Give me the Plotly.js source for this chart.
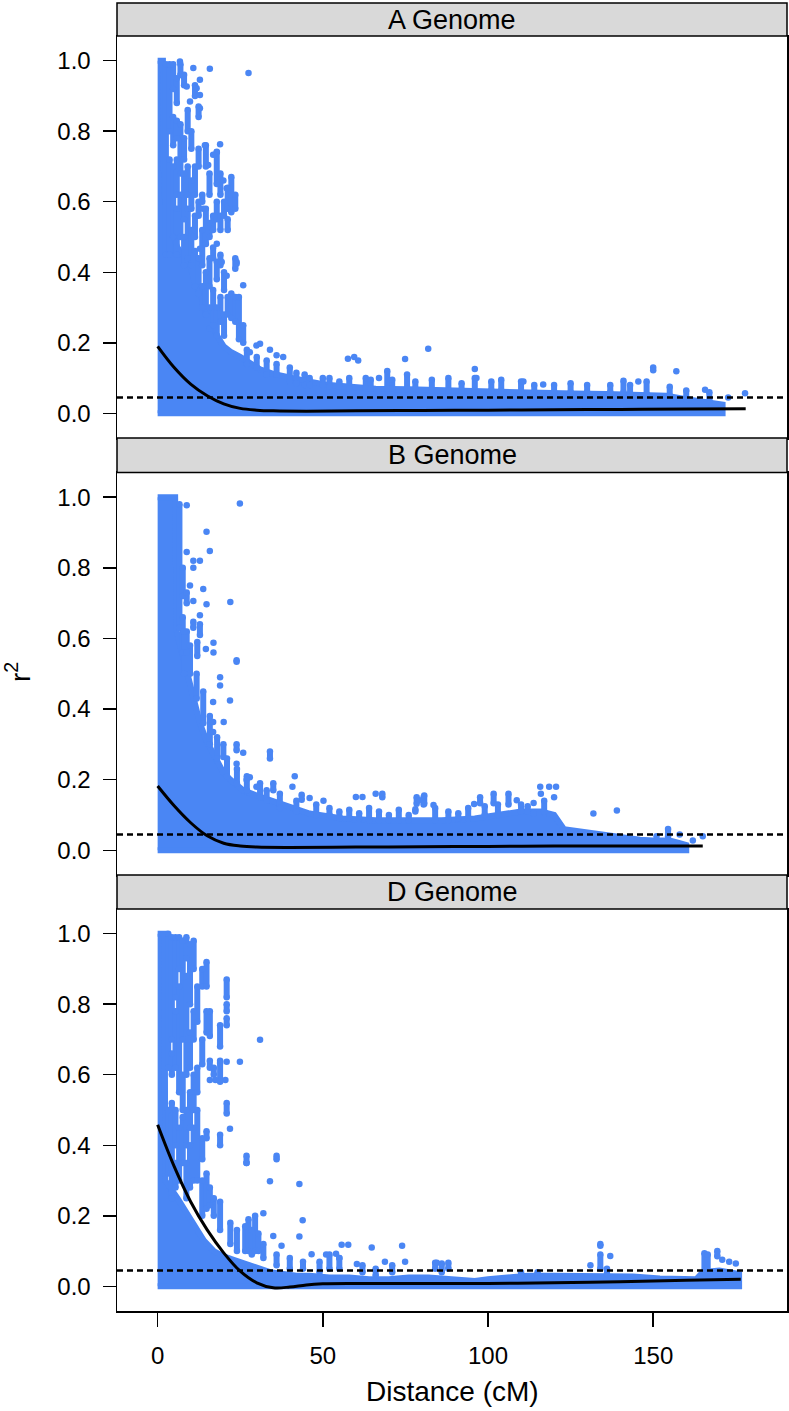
<!DOCTYPE html>
<html><head><meta charset="utf-8">
<script src="https://cdn.plot.ly/plotly-3.0.1.min.js"></script>
<style>body{margin:0;background:#fff}#chart{width:789px;height:1411px}</style>
</head><body><div id="chart"></div>
<script>
// ---------- labels / ticks ----------
const panelNames = ["A Genome", "B Genome", "D Genome"];
const xTickVals = [0, 50, 100, 150];
const xTickText = ["0", "50", "100", "150"];
const yTickVals = [0, 0.2, 0.4, 0.6, 0.8, 1.0];
const yTickText = ["0.0", "0.2", "0.4", "0.6", "0.8", "1.0"];
const threshold = 0.045;

// ---------- A genome ----------
// solid dense core (upper envelope of the saturated cloud)
const A_coreX = [0, 1.6, 2.0, 4, 6, 8, 9.8, 11, 12.8, 14.5, 16, 18, 20, 22, 25, 28, 31, 35, 40, 46, 52, 58, 66, 76, 86, 96, 106, 116, 126, 136, 146, 154, 160, 164, 168, 171];
const A_coreY = [1.0, 1.0, 0.62, 0.52, 0.47, 0.44, 0.42, 0.38, 0.34, 0.3, 0.26, 0.22, 0.19, 0.175, 0.16, 0.14, 0.125, 0.112, 0.1, 0.09, 0.08, 0.075, 0.07, 0.068, 0.065, 0.062, 0.06, 0.058, 0.056, 0.055, 0.054, 0.05, 0.04, 0.035, 0.03, 0.025];
// vertical runs of stacked points
const A_runX  = [2.5, 3.6, 3.6, 4.7, 4.7, 4.7, 5.8, 5.8, 5.8, 5.8, 6.9, 6.9, 6.9, 8.0, 8.0, 8.0, 8.0, 9.1, 9.1, 9.1, 10.2, 10.2, 10.2, 11.3, 11.3, 11.3, 11.3, 12.4, 12.4, 12.4, 12.4, 13.5, 13.5, 13.5, 14.6, 14.6, 14.6, 15.7, 15.7, 15.7, 15.7, 16.8, 16.8, 16.8, 17.9, 17.9, 17.9, 17.9, 19.0, 19.0, 19.0, 19.0, 20.1, 20.1, 20.1, 21.2, 21.2, 21.2, 22.3, 22.3, 23.5, 23.5, 23.5, 24.6, 25.9,
  27, 30, 33, 36, 40, 42, 44.5, 46, 50, 52, 55, 58, 63, 64.5, 69.5, 71, 75.5, 78, 83, 88, 92, 96, 101, 104, 110, 114, 120, 125, 130, 137, 141, 143, 148, 155, 160, 167];
const A_runLo = [0.45, 0.8, 0.45, 0.92, 0.76, 0.5, 0.88, 0.78, 0.62, 0.45, 0.96, 0.68, 0.5, 0.93, 0.72, 0.55, 0.42, 0.8, 0.62, 0.44, 0.75, 0.58, 0.42, 0.9, 0.62, 0.5, 0.36, 0.84, 0.7, 0.56, 0.34, 0.6, 0.42, 0.3, 0.7, 0.48, 0.28, 0.62, 0.5, 0.36, 0.24, 0.52, 0.44, 0.25, 0.65, 0.55, 0.38, 0.22, 0.62, 0.52, 0.42, 0.26, 0.56, 0.35, 0.22, 0.58, 0.52, 0.28, 0.57, 0.27, 0.58, 0.41, 0.26, 0.21, 0.2,
  0.14, 0.13, 0.11, 0.11, 0.09, 0.085, 0.08, 0.08, 0.08, 0.075, 0.075, 0.07, 0.07, 0.07, 0.07, 0.07, 0.07, 0.07, 0.065, 0.065, 0.065, 0.06, 0.065, 0.065, 0.06, 0.06, 0.06, 0.06, 0.06, 0.06, 0.06, 0.055, 0.055, 0.05, 0.04, 0.035];
const A_runHi = [0.99, 0.99, 0.72, 0.99, 0.84, 0.7, 0.95, 0.83, 0.72, 0.58, 0.99, 0.82, 0.62, 0.96, 0.78, 0.68, 0.5, 0.86, 0.7, 0.58, 0.8, 0.66, 0.52, 0.93, 0.7, 0.56, 0.46, 0.87, 0.75, 0.6, 0.44, 0.62, 0.52, 0.36, 0.76, 0.58, 0.4, 0.68, 0.54, 0.44, 0.3, 0.56, 0.47, 0.35, 0.74, 0.6, 0.43, 0.3, 0.68, 0.56, 0.45, 0.33, 0.6, 0.4, 0.28, 0.64, 0.55, 0.33, 0.67, 0.34, 0.62, 0.44, 0.33, 0.33, 0.25,
  0.18, 0.16, 0.15, 0.14, 0.13, 0.115, 0.11, 0.1, 0.1, 0.1, 0.09, 0.1, 0.1, 0.095, 0.12, 0.095, 0.11, 0.09, 0.095, 0.1, 0.085, 0.1, 0.09, 0.095, 0.09, 0.08, 0.08, 0.085, 0.08, 0.08, 0.092, 0.08, 0.09, 0.075, 0.065, 0.06];
// isolated points
const A_ptX = [6.75, 10.8, 15.8, 27.5, 7.8, 12.8, 8.8, 11.8, 12.8, 9.8, 12.8, 14.3, 18.9, 17.9, 16.8, 15.3, 19.9, 20.9, 13.8, 10.8, 12.8, 19.4, 23.9, 20.9, 25.9, 27.9, 29.9, 17.9, 23.9, 31, 34, 36, 38, 57.6, 59.5, 60.7, 74.9, 81.9, 96, 96.5, 110.7, 116.7, 145.5, 150, 150, 157, 165.7, 172.7, 177.8, 67];
const A_ptY = [0.998, 0.979, 0.977, 0.965, 0.955, 0.946, 0.927, 0.922, 0.903, 0.884, 0.865, 0.76, 0.763, 0.742, 0.733, 0.704, 0.66, 0.638, 0.58, 0.5, 0.467, 0.429, 0.429, 0.39, 0.363, 0.173, 0.192, 0.481, 0.424, 0.197, 0.18, 0.165, 0.16, 0.155, 0.16, 0.15, 0.154, 0.183, 0.126, 0.1, 0.09, 0.082, 0.09, 0.13, 0.122, 0.119, 0.067, 0.045, 0.057, 0.1];
// smoothed decay curve
const A_fitX = [0, 5, 10, 15, 20, 25, 30, 35, 45, 60, 80, 100, 120, 140, 160, 178];
const A_fitY = [0.19, 0.13, 0.083, 0.05, 0.027, 0.014, 0.009, 0.007, 0.006, 0.007, 0.008, 0.009, 0.01, 0.011, 0.012, 0.013];

// ---------- B genome ----------
const B_coreX = [0, 5.3, 5.8, 7.5, 9, 10.8, 12.8, 14.8, 17, 19.9, 22, 25.9, 30, 34, 39, 46, 56, 66, 76, 86, 96, 104, 110, 116, 120, 123, 130, 135, 140, 146, 150, 155, 158, 160];
const B_coreY = [1.0, 1.0, 0.62, 0.56, 0.5, 0.43, 0.36, 0.31, 0.27, 0.22, 0.2, 0.17, 0.155, 0.142, 0.123, 0.104, 0.09, 0.085, 0.085, 0.085, 0.09, 0.1, 0.11, 0.11, 0.1, 0.06, 0.05, 0.045, 0.04, 0.03, 0.028, 0.028, 0.02, 0.015];
const B_runX  = [6.6, 7.6, 7.6, 8.8, 8.8, 9.8, 10.8, 12.8, 12, 34, 23.9, 19.9, 35, 43.6, 68, 78.4, 80.5, 97.6, 101.7, 106.2, 80.7, 78, 154.5,
  48, 52, 55, 58, 61, 64, 67, 70, 73, 76, 84, 88, 91, 94, 99, 103, 110, 112, 117,
  8, 11.8, 13.8, 15.8, 18, 21, 24, 27, 31, 33, 37, 42];
const B_runLo = [0.63, 0.56, 0.72, 0.56, 0.7, 0.5, 0.63, 0.61, 0.55, 0.26, 0.283, 0.264, 0.17, 0.143, 0.15, 0.132, 0.13, 0.133, 0.133, 0.13, 0.132, 0.11, 0.04,
  0.1, 0.1, 0.09, 0.09, 0.09, 0.085, 0.085, 0.085, 0.085, 0.085, 0.085, 0.085, 0.09, 0.09, 0.1, 0.1, 0.11, 0.11, 0.11,
  0.5, 0.43, 0.36, 0.3, 0.26, 0.21, 0.19, 0.17, 0.15, 0.14, 0.12, 0.11];
const B_runHi = [0.98, 0.66, 0.8, 0.62, 0.73, 0.58, 0.647, 0.64, 0.59, 0.28, 0.3, 0.3, 0.19, 0.157, 0.16, 0.15, 0.15, 0.15, 0.16, 0.16, 0.155, 0.116, 0.06,
  0.13, 0.12, 0.11, 0.115, 0.105, 0.12, 0.11, 0.1, 0.115, 0.1, 0.12, 0.11, 0.105, 0.12, 0.125, 0.13, 0.13, 0.125, 0.14,
  0.62, 0.5, 0.45, 0.38, 0.32, 0.26, 0.23, 0.21, 0.19, 0.17, 0.16, 0.14];
const B_ptX = [23.9, 18.9, 18.9, 16.8, 21.9, 16.8, 20, 16.8, 25.9, 23.9, 27.9, 26.9, 29.9, 40.8, 41.5, 46, 50.2, 60, 62, 66, 22, 24.9, 8.8, 14.8, 8.8, 15.8, 10.8, 12.8, 10.8, 9.8, 13.8, 10.8, 14.8, 12.8, 16.9, 16.9, 14.6, 23.9,
  115.8, 118.5, 120.6, 116, 120, 108.7, 113.8, 95.8, 79, 83.5, 131.9, 139, 113.8, 127.8, 151, 158, 162, 165];
const B_ptY = [0.534, 0.49, 0.467, 0.42, 0.424, 0.363, 0.363, 0.335, 0.276, 0.245, 0.207, 0.2, 0.18, 0.18, 0.21, 0.148, 0.14, 0.151, 0.151, 0.16, 0.703, 0.982, 0.977, 0.902, 0.845, 0.848, 0.82, 0.82, 0.8, 0.75, 0.74, 0.706, 0.697, 0.666, 0.588, 0.56, 0.57, 0.538,
  0.18, 0.18, 0.18, 0.16, 0.15, 0.142, 0.134, 0.131, 0.142, 0.128, 0.104, 0.113, 0.104, 0.05, 0.04, 0.045, 0.028, 0.04];
const B_fitX = [0, 5, 10, 15, 20, 25, 30, 40, 60, 80, 100, 120, 140, 165];
const B_fitY = [0.182, 0.126, 0.078, 0.041, 0.02, 0.012, 0.009, 0.008, 0.009, 0.01, 0.011, 0.012, 0.012, 0.012];

// ---------- D genome ----------
const D_coreX = [0, 2.1, 2.3, 4, 6, 8, 10, 12, 14, 17, 20, 23, 26, 30, 34, 38, 42, 46, 52, 58, 64, 70, 76, 82, 90, 96, 100, 106, 112, 120, 128, 136, 144, 152, 158, 163, 165, 170, 176];
const D_coreY = [1.0, 1.0, 0.3, 0.28, 0.25, 0.22, 0.19, 0.16, 0.13, 0.1, 0.085, 0.075, 0.065, 0.05, 0.04, 0.035, 0.03, 0.03, 0.025, 0.025, 0.02, 0.02, 0.025, 0.025, 0.02, 0.015, 0.02, 0.025, 0.03, 0.03, 0.03, 0.032, 0.028, 0.022, 0.02, 0.02, 0.04, 0.045, 0.035];
const D_runX  = [3.2, 3.2, 4.3, 4.3, 4.3, 5.4, 5.4, 5.4, 5.4, 6.5, 6.5, 6.5, 7.6, 7.6, 7.6, 8.7, 8.7, 8.7, 8.7, 9.8, 9.8, 9.8, 9.8, 10.9, 10.9, 10.9, 10.9, 12.0, 12.0, 12.0, 13.5, 13.5, 13.5, 13.5, 14.8, 14.8, 14.8, 14.8, 15.8, 15.8, 15.8, 17.0, 17.0, 18.9, 18.9, 18.9, 18.9, 20.9, 20.9, 20.9, 20.9,
  22, 24, 26.5, 27.5, 28.5, 29.5, 30.5, 32, 26.9, 36, 36, 40, 44, 49, 52, 55, 62, 66, 71, 84, 86, 88, 110, 115, 134, 134, 136, 165.5, 166.5, 169.4];
const D_runLo = [0.62, 0.32, 0.7, 0.6, 0.25, 0.82, 0.62, 0.4, 0.28, 0.9, 0.55, 0.3, 0.7, 0.5, 0.35, 0.93, 0.6, 0.4, 0.25, 0.8, 0.62, 0.45, 0.28, 0.9, 0.7, 0.5, 0.3, 0.75, 0.55, 0.3, 0.85, 0.63, 0.36, 0.2, 0.85, 0.72, 0.42, 0.22, 0.71, 0.62, 0.23, 0.6, 0.2, 0.68, 0.58, 0.4, 0.16, 0.82, 0.78, 0.74, 0.49,
  0.12, 0.1, 0.1, 0.1, 0.09, 0.1, 0.1, 0.08, 0.35, 0.36, 0.06, 0.05, 0.05, 0.04, 0.05, 0.05, 0.04, 0.03, 0.04, 0.05, 0.04, 0.05, 0.03, 0.03, 0.05, 0.115, 0.035, 0.04, 0.04, 0.085];
const D_runHi = [1.0, 0.5, 0.99, 0.66, 0.52, 0.99, 0.78, 0.5, 0.35, 0.99, 0.85, 0.45, 0.98, 0.6, 0.48, 0.99, 0.88, 0.5, 0.35, 0.97, 0.72, 0.55, 0.4, 0.98, 0.78, 0.6, 0.45, 0.85, 0.62, 0.5, 0.9, 0.7, 0.42, 0.3, 0.92, 0.78, 0.44, 0.32, 0.78, 0.64, 0.28, 0.62, 0.25, 0.74, 0.64, 0.43, 0.24, 0.87, 0.8, 0.76, 0.52,
  0.18, 0.16, 0.17, 0.19, 0.16, 0.2, 0.15, 0.12, 0.37, 0.37, 0.09, 0.08, 0.07, 0.07, 0.09, 0.08, 0.06, 0.05, 0.06, 0.067, 0.065, 0.067, 0.04, 0.04, 0.09, 0.12, 0.05, 0.094, 0.09, 0.1];
const D_ptX = [31, 24.9, 20.9, 18.9, 15.8, 17.5, 20.5, 21.9, 26.9, 34, 42.9, 43.9, 42.9, 32, 35, 37.5, 55.7, 57.7, 64.8, 74, 68.8, 74.9, 46.6, 51, 54, 55, 60.3, 84.5, 137, 131, 170.9, 173, 175];
const D_ptY = [0.699, 0.637, 0.637, 0.633, 0.585, 0.585, 0.585, 0.447, 0.35, 0.298, 0.29, 0.187, 0.141, 0.207, 0.143, 0.115, 0.118, 0.118, 0.11, 0.115, 0.07, 0.07, 0.091, 0.09, 0.092, 0.08, 0.063, 0.067, 0.086, 0.06, 0.075, 0.07, 0.065];
const D_fitX = [0, 5, 10, 15, 20, 25, 30, 35, 40, 45, 50, 60, 80, 100, 120, 140, 160, 176.5];
const D_fitY = [0.458, 0.34, 0.24, 0.16, 0.095, 0.043, 0.01, -0.004, -0.002, 0.004, 0.007, 0.008, 0.008, 0.008, 0.01, 0.013, 0.017, 0.02];

// ---------- build ----------
const BLUE = '#4a86f4';
const MS = 6.5;
const FONT = 'Liberation Sans, Arial, sans-serif';

function panelTraces(coreX, coreY, runX, runLo, runHi, ptX, ptY, fitX, fitY, xa, ya) {
  const polyX = coreX.concat(coreX.slice().reverse());
  const polyY = coreY.concat(coreX.map(() => 0));
  const sx = [], sy = [];
  runX.forEach((x, i) => { sx.push(x, x, null); sy.push(runLo[i], runHi[i], null); });
  return [
    {type: 'scatter', mode: 'lines', x: polyX, y: polyY, fill: 'toself', fillcolor: BLUE,
     line: {color: BLUE, width: 6}, xaxis: xa, yaxis: ya, hoverinfo: 'skip'},
    {type: 'scatter', mode: 'lines+markers', x: sx, y: sy, connectgaps: false,
     line: {color: BLUE, width: 6}, marker: {color: BLUE, size: MS}, xaxis: xa, yaxis: ya, hoverinfo: 'skip'},
    {type: 'scatter', mode: 'markers', x: ptX, y: ptY, marker: {color: BLUE, size: MS},
     xaxis: xa, yaxis: ya, hoverinfo: 'skip'},
    {type: 'scatter', mode: 'lines', x: fitX, y: fitY, line: {color: '#000', width: 3, shape: 'spline'},
     xaxis: xa, yaxis: ya, hoverinfo: 'skip'}
  ];
}

const data = [].concat(
  panelTraces(A_coreX, A_coreY, A_runX, A_runLo, A_runHi, A_ptX, A_ptY, A_fitX, A_fitY, 'x', 'y'),
  panelTraces(B_coreX, B_coreY, B_runX, B_runLo, B_runHi, B_ptX, B_ptY, B_fitX, B_fitY, 'x2', 'y2'),
  panelTraces(D_coreX, D_coreY, D_runX, D_runLo, D_runHi, D_ptX, D_ptY, D_fitX, D_fitY, 'x3', 'y3')
);

// pixel layout: plot area 117..787 (x), 3..1311 (y)
const H = 1308;
const pf = p => (1311 - p) / H;
const plotDom = [[pf(438), pf(36)], [pf(875), pf(472.5)], [0, pf(909)]];
const stripDom = [[pf(36), 1], [pf(472.5), pf(438)], [pf(909), pf(875)]];

const XR = [-12.3, 190.5];
const YR = [-0.07, 1.07];
const tickFont = {family: FONT, size: 24, color: '#000'};

function xAxis(anchor, showTicks) {
  return {domain: [0, 1], anchor: anchor, range: XR, showgrid: false, zeroline: false,
    showline: true, mirror: true, linecolor: '#000', linewidth: 1.5,
    ticks: showTicks ? 'outside' : '', ticklen: 14, tickwidth: 1.5, tickcolor: '#000',
    tickvals: xTickVals, ticktext: xTickText, showticklabels: showTicks,
    tickfont: tickFont, ticklabelstandoff: 9};
}
function yAxis(anchor, dom) {
  return {domain: dom, anchor: anchor, range: YR, showgrid: false, zeroline: false,
    showline: true, mirror: true, linecolor: '#000', linewidth: 1.5,
    ticks: 'outside', ticklen: 13, tickwidth: 1.5, tickcolor: '#000',
    tickvals: yTickVals, ticktext: yTickText, tickfont: tickFont, ticklabelstandoff: 7};
}

const shapes = [];
const annotations = [];
panelNames.forEach((name, i) => {
  shapes.push({type: 'rect', xref: 'paper', yref: 'paper', x0: 0, x1: 1,
    y0: stripDom[i][0], y1: stripDom[i][1], fillcolor: '#d9d9d9',
    line: {color: '#000', width: 1.5}, layer: 'above'});
  annotations.push({xref: 'paper', yref: 'paper', x: 0.5, y: (stripDom[i][0] + stripDom[i][1]) / 2,
    xanchor: 'center', yanchor: 'middle', showarrow: false, text: name,
    font: {family: FONT, size: 27, color: '#000'}});
  const sfx = i === 0 ? '' : String(i + 1);
  shapes.push({type: 'line', xref: 'x' + sfx + ' domain', yref: 'y' + sfx, x0: 0, x1: 1,
    y0: threshold, y1: threshold, line: {color: '#000', width: 2.5, dash: '6px,4px'}, layer: 'above'});
});
annotations.push({xref: 'paper', yref: 'paper', x: (18 - 117) / 670, y: pf(672),
  xanchor: 'center', yanchor: 'middle', showarrow: false, textangle: -90, text: 'r<sup>2</sup>',
  font: {family: FONT, size: 28, color: '#000'}});
annotations.push({xref: 'paper', yref: 'paper', x: 0.5, y: pf(1392),
  xanchor: 'center', yanchor: 'middle', showarrow: false, text: 'Distance (cM)',
  font: {family: FONT, size: 28, color: '#000'}});

const layout = {
  width: 789, height: 1411, margin: {l: 117, r: 2, t: 3, b: 100},
  paper_bgcolor: '#fff', plot_bgcolor: '#fff', showlegend: false,
  font: {family: FONT, color: '#000'},
  xaxis: xAxis('y', false), xaxis2: xAxis('y2', false), xaxis3: xAxis('y3', true),
  yaxis: yAxis('x', plotDom[0]), yaxis2: yAxis('x2', plotDom[1]), yaxis3: yAxis('x3', plotDom[2]),
  shapes: shapes, annotations: annotations
};

Plotly.newPlot('chart', data, layout, {staticPlot: true, displayModeBar: false});
</script>
</body></html>
